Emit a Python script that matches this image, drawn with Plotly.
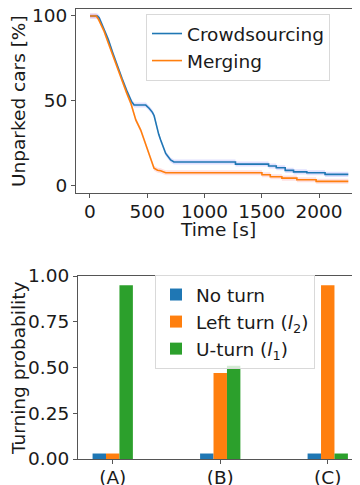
import plotly.graph_objects as go

# ---- Top panel data: unparked cars over time ----
crowd_t = [0, 65, 80, 120, 160, 200, 240, 280, 320, 362, 385, 487, 516, 545, 560, 574, 600, 617, 640, 661, 704, 733,
           1270, 1270, 1559, 1559, 1626, 1626, 1704, 1704, 1777, 1777, 1893, 1893, 2052, 2052, 2255]
crowd_v = [100, 100, 99, 93, 86, 78, 70, 63, 56, 49.5, 47.3, 47.3, 45.4, 43, 41, 36.5, 30, 26.6, 22, 18.7, 14.8, 13.6,
           13.6, 12.4, 12.4, 11.3, 11.3, 10.2, 10.2, 8.7, 8.7, 7.8, 7.8, 7.3, 7.3, 6.3, 6.3]
merge_t = [0, 55, 75, 120, 160, 200, 240, 280, 320, 357, 400, 443, 470, 501, 530, 559, 590, 617, 661,
           1501, 1501, 1574, 1574, 1675, 1675, 1806, 1806, 1974, 1974, 2255]
merge_v = [100, 100, 98, 91.5, 84, 76.5, 68.5, 61.5, 54.5, 48.3, 38.5, 32.5, 27, 20.7, 15, 9.9, 8.8, 8.5, 7.3,
           7.3, 6.1, 6.1, 4.9, 4.9, 4.1, 4.1, 3.1, 3.1, 2.2, 2.2]
band_half = 1.5

# ---- Bottom panel data: turning probabilities ----
cases = ["(A)", "(B)", "(C)"]
no_turn = [0.03, 0.03, 0.03]
left_turn = [0.03, 0.47, 0.95]
u_turn = [0.95, 0.51, 0.03]

BLUE, ORANGE, GREEN = "#1f77b4", "#ff7f0e", "#2ca02c"
FONT = "DejaVu Sans"
TXT = "#1a1a1a"
SPINE = "#555555"
FS = 18.5

# page has an 8px body margin; the figure is sized to fill the rest of the 360x485 window
W, H, OFF = 352, 477, 8

def px_x(p):
    return (p - OFF) / W

def px_y(p):
    return 1 - (p - OFF) / H

fig = go.Figure()

def band(t, v, fillcol):
    fig.add_trace(go.Scatter(x=t, y=[a - band_half for a in v], mode="lines", line=dict(width=0),
                             showlegend=False, hoverinfo="skip", xaxis="x", yaxis="y"))
    fig.add_trace(go.Scatter(x=t, y=[a + band_half for a in v], mode="lines", line=dict(width=0),
                             fill="tonexty", fillcolor=fillcol, showlegend=False, hoverinfo="skip",
                             xaxis="x", yaxis="y"))

band(crowd_t, crowd_v, "rgba(0,0,255,0.12)")
band(merge_t, merge_v, "rgba(255,0,0,0.12)")
fig.add_trace(go.Scatter(x=crowd_t, y=crowd_v, mode="lines", name="Crowdsourcing",
                         line=dict(color=BLUE, width=1.6), xaxis="x", yaxis="y", legend="legend"))
fig.add_trace(go.Scatter(x=merge_t, y=merge_v, mode="lines", name="Merging",
                         line=dict(color=ORANGE, width=1.6), xaxis="x", yaxis="y", legend="legend"))

w = 0.125
xs = [0, 1, 2]
for vals, name, col, off in [(no_turn, "No turn", BLUE, -1.5 * w),
                             (left_turn, "Left turn (<i>l</i><sub>2</sub>)", ORANGE, -0.5 * w),
                             (u_turn, "U-turn (<i>l</i><sub>1</sub>)", GREEN, 0.5 * w)]:
    fig.add_trace(go.Bar(x=xs, y=vals, width=w, offset=off, name=name, marker=dict(color=col, line=dict(width=0)),
                         xaxis="x2", yaxis="y2", legend="legend2"))

axis_common = dict(showgrid=False, zeroline=False, showline=True, linecolor=SPINE, linewidth=1, mirror=True,
                   automargin=False, ticks="outside", ticklen=4, tickcolor=SPINE, ticklabeloverflow="allow",
                   tickfont=dict(size=FS, color=TXT, family=FONT))

titles = [
    dict(text="Time [s]", x=px_x(218), y=px_y(229.5), textangle=0),
    dict(text="Unparked cars [%]", x=px_x(19), y=px_y(101), textangle=-90),
    dict(text="Turning probability", x=px_x(18), y=px_y(369), textangle=-90),
]
annotations = [dict(xref="paper", yref="paper", xanchor="center", yanchor="middle", showarrow=False,
                    font=dict(size=FS, color=TXT, family=FONT), **t) for t in titles]

fig.update_layout(
    template="none",
    width=W, height=H, margin=dict(l=0, r=0, t=0, b=0, pad=0),
    paper_bgcolor="white", plot_bgcolor="white", barmode="overlay",
    font=dict(family=FONT, size=FS, color=TXT),
    annotations=annotations,
    xaxis=dict(domain=[px_x(76), 1], range=[-122, 2357], tickvals=[0, 500, 1000, 1500, 2000],
               ticklabelstandoff=-2, anchor="y", **axis_common),
    yaxis=dict(domain=[px_y(193), px_y(8.5)], range=[-4.7, 104.4], tickvals=[0, 50, 100],
               anchor="x", **axis_common),
    xaxis2=dict(domain=[px_x(78), 1], range=[-0.323, 2.30], tickvals=xs, ticktext=cases,
                ticklabelstandoff=-2, anchor="y2", **axis_common),
    yaxis2=dict(domain=[px_y(459), px_y(276)], range=[0, 1], tickvals=[0, 0.25, 0.5, 0.75, 1.0],
                tickformat=".2f", anchor="x2", **axis_common),
    legend=dict(x=px_x(146), y=px_y(14), xanchor="left", yanchor="top", bgcolor="rgba(255,255,255,0.8)",
                traceorder="normal", bordercolor="#d9d9d9", borderwidth=1,
                font=dict(size=FS, color=TXT, family=FONT)),
    legend2=dict(x=px_x(155), y=px_y(275), xanchor="left", yanchor="top", bgcolor="rgba(255,255,255,0.8)",
                 traceorder="normal", bordercolor="#d9d9d9", borderwidth=1,
                 font=dict(size=FS, color=TXT, family=FONT)),
)

fig.write_html("out.html")
